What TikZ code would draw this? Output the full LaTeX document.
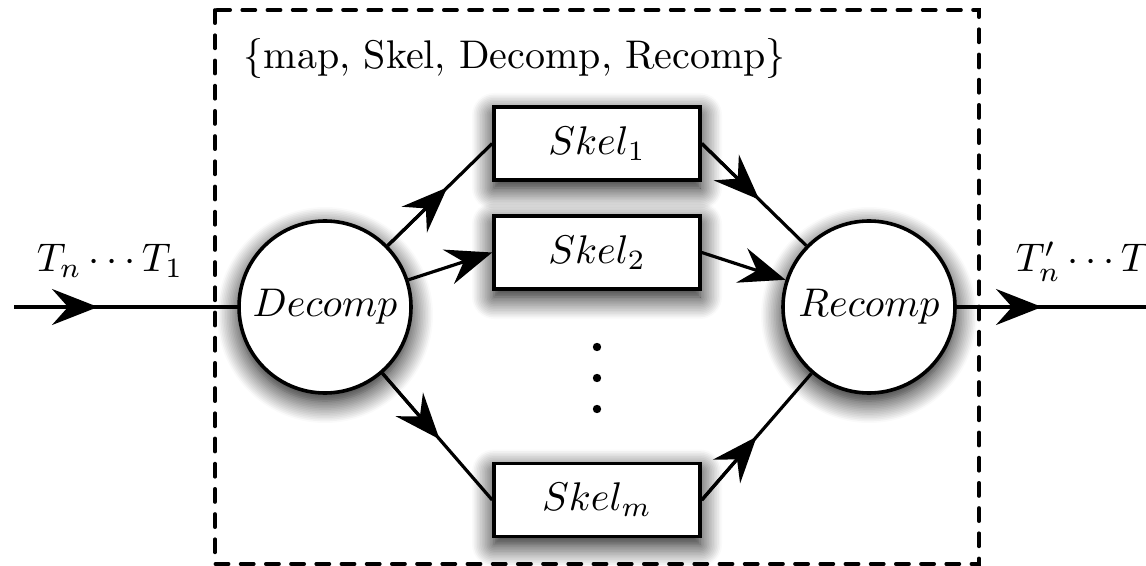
\documentclass[tikz,border=0pt]{standalone}
\usetikzlibrary{arrows.meta,shadows.blur}
\begin{document}
\begin{tikzpicture}[x=0.25pt,y=-0.25pt,
  conn/.style={line width=0.8pt},
  arrowed/.style={conn,-{Stealth[length=11.5pt,width=9pt,inset=4pt]}},
  softshadow/.style={blur shadow={shadow xshift=0pt,shadow yshift=-2pt,
      shadow blur radius=5.5pt,shadow opacity=100,shadow blur steps=14}},
  proc/.style={circle,draw,line width=0.9pt,fill=white,minimum size=43pt,
      inner sep=0pt,softshadow},
  skel/.style={rectangle,draw,line width=0.9pt,fill=white,minimum width=51.5pt,
      minimum height=18.25pt,inner sep=0pt,softshadow},
  bigdot/.style={circle,fill,inner sep=0pt,minimum size=2.1pt},
  groupframe/.style={line width=0.9pt,dash pattern=on 3.3pt off 3pt,line cap=round}]

% canvas
\clip (0,0) rectangle (1146,566);

% dashed group box and its title
\draw[groupframe] (215,10) rectangle (979,564);
\node[anchor=base west,inner sep=0pt] (title) at (243,69) {\{map, Skel, Decomp, Recomp\}};

% decomposition / recomposition stages
\node[proc] (D) at (325,307) {$Decomp$};
\node[proc] (R) at (869,307) {$Recomp$};

% parallel skeletons
\node[skel] (S1) at (597,143.5) {$Skel_1$};
\node[skel] (S2) at (597,252.5) {$Skel_2$};
\node[skel] (Sm) at (597,500) {$Skel_m$};
\node[bigdot] (d1) at (597,347) {};
\node[bigdot] (d2) at (597,378) {};
\node[bigdot] (d3) at (597,409) {};

% input and output streams
\coordinate (in) at (14,307);
\coordinate (inTip) at (98,307);
\coordinate (out) at (1160,307);
\coordinate (outTip) at (1042,307);
\node[anchor=base west,inner sep=0pt] (inlbl) at (36,272) {$T_n\cdots T_1$};
\node[anchor=base west,inner sep=0pt] (outlbl) at (1015,272) {$T'_n\cdots T'_1$};

\draw[conn] (in) -- (D);
\draw[arrowed] (in) -- (inTip);
\draw[conn] (R) -- (out);
\draw[arrowed] (R) -- (outTip);

% fan out
\draw[conn] (D) -- coordinate[pos=0.57] (a1) (S1.west);
\draw[arrowed] (D) -- (a1);
\draw[arrowed] (D) -- (S2.west);
\draw[conn] (D) -- coordinate[pos=0.52] (a3) (Sm.west);
\draw[arrowed] (D) -- (a3);

% fan in
\draw[conn] (S1.east) -- coordinate[pos=0.55] (b1) (R);
\draw[arrowed] (S1.east) -- (b1);
\draw[arrowed] (S2.east) -- (R);
\draw[conn] (Sm.east) -- coordinate[pos=0.5] (b3) (R);
\draw[arrowed] (Sm.east) -- (b3);
\end{tikzpicture}
\end{document}
